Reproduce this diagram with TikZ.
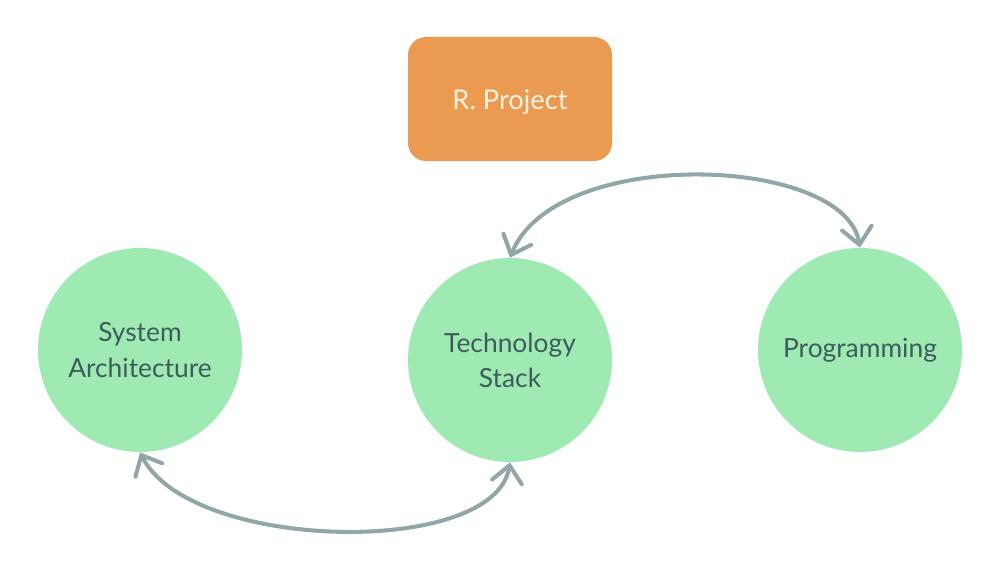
\documentclass[tikz,border=0pt]{standalone}
\usepackage{fontspec}
\setmainfont{Lato}
\usetikzlibrary{arrows.meta}
\definecolor{circfill}{HTML}{9FEAB3}
\definecolor{circtext}{HTML}{3D5C5C}
\definecolor{arrowcol}{HTML}{91A6A6}
\definecolor{boxfill}{HTML}{EB9A52}
\definecolor{boxtext}{HTML}{FDF3DE}
\tikzset{
  topic/.style={circle, fill=circfill, minimum size=204*0.02cm, inner sep=0pt,
    text=circtext, align=center, font=\fontsize{15pt}{20pt}\selectfont},
  projbox/.style={rectangle, rounded corners=18*0.02cm, fill=boxfill,
    minimum width=204*0.02cm, minimum height=124*0.02cm, inner sep=0pt,
    text=boxtext, font=\fontsize{15.5pt}{20pt}\selectfont},
  link/.style={draw=arrowcol, line width=2.3pt, line cap=round,
    {Straight Barb[length=9.5pt,width=17pt,line cap=round]}-{Straight Barb[length=9.5pt,width=17pt,line cap=round]}}
}
\begin{document}
\begin{tikzpicture}[x=0.02cm,y=-0.02cm]
\useasboundingbox (0,0) rectangle (1000,571);
\node[projbox] (proj) at (510,99) {\raisebox{-1.7pt}[\height][\depth]{R. Project}};
\node[topic] (arch) at (140,350) {System\\Architecture};
\node[topic] (tech) at (510,360) {Technology\\Stack};
\node[topic] (prog) at (860,350) {Programming};
\draw[link] (tech.north) .. controls (555,145) and (845,155) .. (prog.north);
\draw[link] (arch.south) .. controls (190,552) and (495,558) .. (tech.south);
\end{tikzpicture}
\end{document}
